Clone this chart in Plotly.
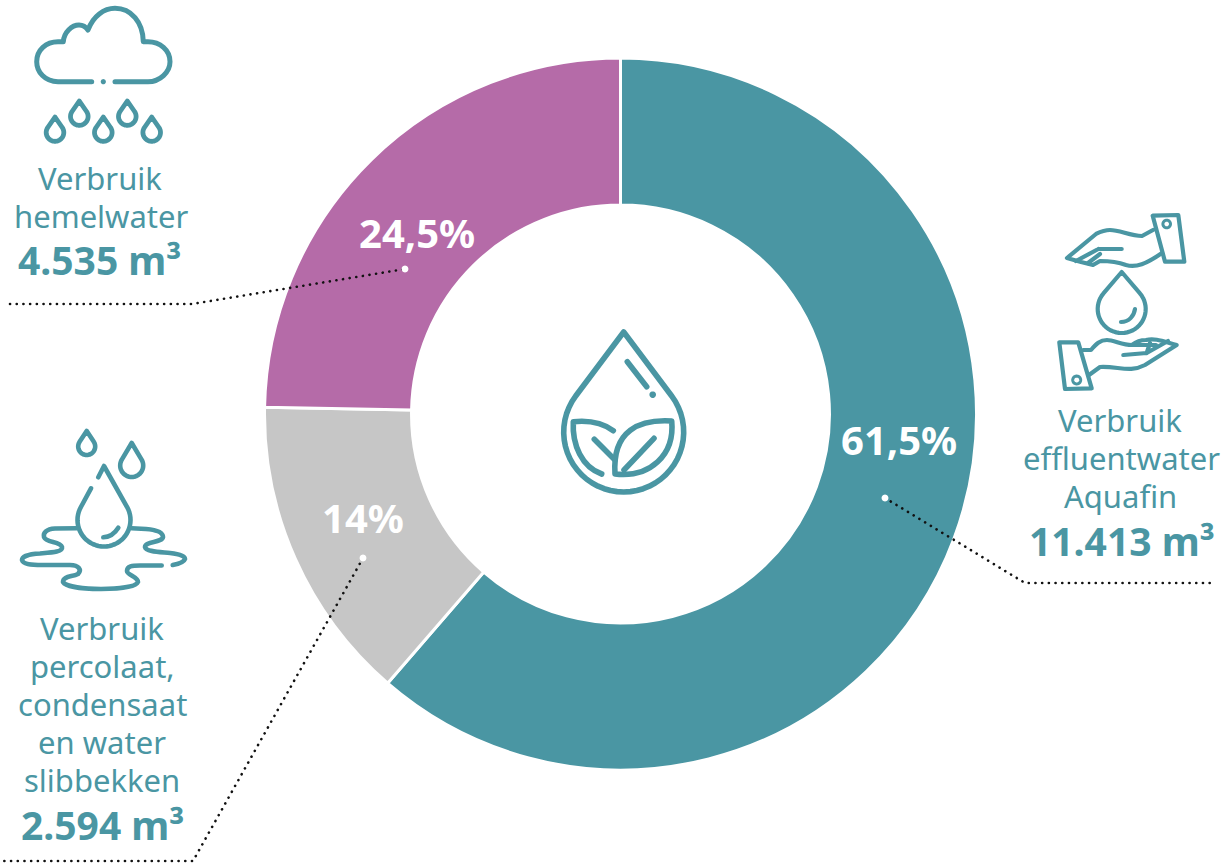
import math, re
import plotly.graph_objects as go

W, H = 1225, 863
TEAL, PURPLE, GREY = "#4a96a3", "#b56ba8", "#c6c6c6"
FONT = "Noto Sans"

# ---- data ----
categories = ["Verbruik effluentwater Aquafin", "Verbruik percolaat, condensaat en water slibbekken", "Verbruik hemelwater"]
slice_shares = [61.35, 13.95, 24.7]   # as drawn in the picture
colors = [TEAL, GREY, PURPLE]
percent_labels = ["61,5%", "14%", "24,5%"]
percent_pos = [(899, 439), (363, 517), (417, 232)]

text_lines = [
    ("Verbruik", 100, 178, False), ("hemelwater", 101, 216, False), ("4.535 m³", 100, 259, True),
    ("Verbruik", 1120, 420, False), ("effluentwater", 1121, 458, False), ("Aquafin", 1120, 496, False),
    ("11.413 m³", 1121, 540, True),
    ("Verbruik", 102, 628, False), ("percolaat,", 102, 666, False), ("condensaat", 102, 704, False),
    ("en water", 102, 742, False), ("slibbekken", 102, 780, False), ("2.594 m³", 102, 824, True),
]
leaders = [
    [(10, 304), (192, 304), (405, 269)],
    [(885, 498), (1025, 583), (1214, 583)],
    [(363, 558), (193, 861), (0, 861)],
]

# ---- helpers: icon outlines are authored in page pixels ----
def P(d):
    toks = re.findall(r"[MLCZ]|-?\d+\.?\d*", d)
    out, i = [], 0
    while i < len(toks):
        if toks[i] in "MLCZ":
            out.append(toks[i]); i += 1
        else:
            out.append(f"{float(toks[i]) / W:.5f},{1 - float(toks[i + 1]) / H:.5f}"); i += 2
    return " ".join(out)

def arc_pts(cx, cy, r, a0, a1, n=40):
    return [(cx + r * math.cos(math.radians(a0 + (a1 - a0) * k / n)),
             cy + r * math.sin(math.radians(a0 + (a1 - a0) * k / n))) for k in range(n + 1)]

def drop(cx, tip, cy, r):
    ang = math.degrees(math.asin(r / (cy - tip)))
    pts = arc_pts(cx, cy, r, -ang, 180 + ang)
    return f"M{cx} {tip} " + " ".join(f"L{x:.2f} {y:.2f}" for x, y in pts) + " Z"

def circle(cx, cy, r):
    pts = arc_pts(cx, cy, r, 0, 360, 24)
    return "M" + " L".join(f"{x:.2f} {y:.2f}" for x, y in pts) + " Z"

shapes = []
def stroke(d, w=3.6, color=TEAL):
    shapes.append(dict(type="path", xref="paper", yref="paper", path=P(d), line=dict(color=color, width=w), layer="above"))
def dot(cx, cy, r, color=TEAL):
    shapes.append(dict(type="path", xref="paper", yref="paper", path=P(circle(cx, cy, r)),
                       fillcolor=color, line=dict(width=0), layer="above"))

# cloud
stroke("M91.7 81.7 L58 81.7 C45 81.7 36.7 72 36.7 61.7 C36.7 50 46 41.7 58 41.7 L63.3 41.7 C64 32 72 25 79 25 C83 25 86 27 88 30 C93 16 104 8.3 115 8.3 C131 8.3 143 22 143.3 41.7 L148 41.7 C160 41.7 170 50 170 61.7 C170 72 160 81.7 148 81.7 L115 81.7", 5)
dot(103.3, 81.7, 2.6)
for x, t in [(79.3, 101), (55, 117), (103.3, 117), (127.3, 101), (151.7, 117)]:
    stroke(drop(x, t, t + 15.5, 8.8), 4.8)

# hands and drop
HW = 4.2
stroke(drop(1121.7, 272, 309, 24), HW)
stroke("M1121 322 C1129 322 1134 316 1135 309", HW)
stroke("M1152.7 215.7 L1178.3 215 L1184.3 261.7 L1165 261.7 Z", HW)
stroke(circle(1166.7, 224, 3.8), 3)
stroke("M1153 230 L1142 236 C1130 236 1120 230 1110 230 C1104 230 1100 232 1096 234 L1067 258 L1081 262 L1093 265 L1100 261 C1108 261 1118 262 1126 265 C1136 268 1146 264 1162 253", HW)
stroke("M1098.3 249 L1121.7 249 M1098.3 249 L1076 261 M1100 254 L1088 263", HW)
stroke("M1059.3 342.3 L1078.3 342.3 L1091.7 388.3 L1065 389 Z", HW)
stroke(circle(1076.7, 380, 4), 3)
stroke("M1083.3 350 L1091 350 C1096 344 1100 340 1107 340 C1114 340 1122 345 1132 345 C1137 341 1140 340 1146 340 C1155 338 1162 341 1176.7 345 L1145 365 C1130 373 1118 366 1100 367 L1089 375", HW)
stroke("M1123.3 355 L1146.7 353 L1168 341 M1146.7 353 L1150 343 M1130 345 L1156 345", HW)

# puddle and drops
PW = 4.6
stroke(drop(86.7, 431, 446.5, 8.5), PW)
stroke(drop(131.7, 443, 465.5, 11.5), PW)
ang = math.degrees(math.asin(26.5 / 54))
pts = arc_pts(104, 520, 26.5, -ang, 180 + ang)
stroke("M98.3 477.3 L104 466 " + " ".join(f"L{x:.2f} {y:.2f}" for x, y in pts) + " L91 488.3", PW)
stroke("M103.3 537.3 C110 537 115 533 118.3 527.7", PW)
stroke("M76.7 528.3 L55 528.5 C46 529 43 533 44 537 C46 543 60 541 62 547 C63 552 52 552.5 40 553.5 C28 554 22 557 22 560 C23 564 30 565 42 565 L70 565 C79 565 82 570 78 574 C72 577 63 576 63 582 C66 587 85 589 101 589 C118 589 136 587 138 582 C138 577 127 575 127 571 C127 566 132 565.5 140 565.5 L161.7 565.5", PW)
stroke("M131.7 528.3 L146 529 C158 530 163 533 163 537 C162 543 145 541 145 547 C146 552 160 552 170 553 C180 554 185 556 185 559 C184 562 178 564 172.7 565", PW)

# central emblem
CW = 5.6
stroke(drop(623.7, 332, 432, 60), CW)
stroke("M627.3 361.7 L646.7 386.7", CW)
dot(652.7, 394.7, 3.3)
stroke("M613.3 430.7 C603 423 590 420 573.3 421.7 C572 445 582 467 601.7 474", CW)
stroke("M594.3 439.3 L615 460", CW)
stroke("M671.7 421 C640 419 612 430 615 474 C650 478 675 455 671.7 421 Z", CW)
stroke("M624 470 L654 438.3", CW)

# dotted leaders
for line in leaders:
    d = "M" + " L".join(f"{x} {y}" for x, y in line)
    shapes.append(dict(type="path", xref="paper", yref="paper", path=P(d), layer="above",
                       line=dict(color="#111111", width=2.6, dash="0.1px,6.6px")))
    a = line[0] if line[0][0] > 300 else line[-1]
    dot(a[0], a[1], 3.4, "#ffffff")

annotations = []
for (s, x, y, bold) in text_lines:
    annotations.append(dict(text=f"<b>{s}</b>" if bold else s, x=x / W, y=1 - y / H, xref="paper", yref="paper",
                            showarrow=False, xanchor="center", yanchor="middle",
                            font=dict(family=FONT, size=39 if bold else 31, color=TEAL)))
for s, (x, y) in zip(percent_labels, percent_pos):
    annotations.append(dict(text=f"<b>{s}</b>", x=x / W, y=1 - y / H, xref="paper", yref="paper",
                            showarrow=False, xanchor="center", yanchor="middle",
                            font=dict(family=FONT, size=40, color="#ffffff")))

fig = go.Figure(go.Pie(
    labels=categories, values=slice_shares, sort=False, direction="clockwise", rotation=0, hole=0.587,
    marker=dict(colors=colors, line=dict(color="#ffffff", width=3)), textinfo="none", hoverinfo="label+percent",
    domain=dict(x=[264.5 / W, 976.5 / W], y=[(H - 770) / H, (H - 58) / H]),
))
fig.update_layout(width=W, height=H, margin=dict(l=0, r=0, t=0, b=0), showlegend=False,
                  paper_bgcolor="#ffffff", shapes=shapes, annotations=annotations)

post = """document.body.style.margin='0';
var st=document.createElement('style');
st.textContent='.shapelayer path{stroke-linecap:round;stroke-linejoin:round}';
document.head.appendChild(st);"""
fig.write_html("out.html", post_script=post, config=dict(displayModeBar=False))
